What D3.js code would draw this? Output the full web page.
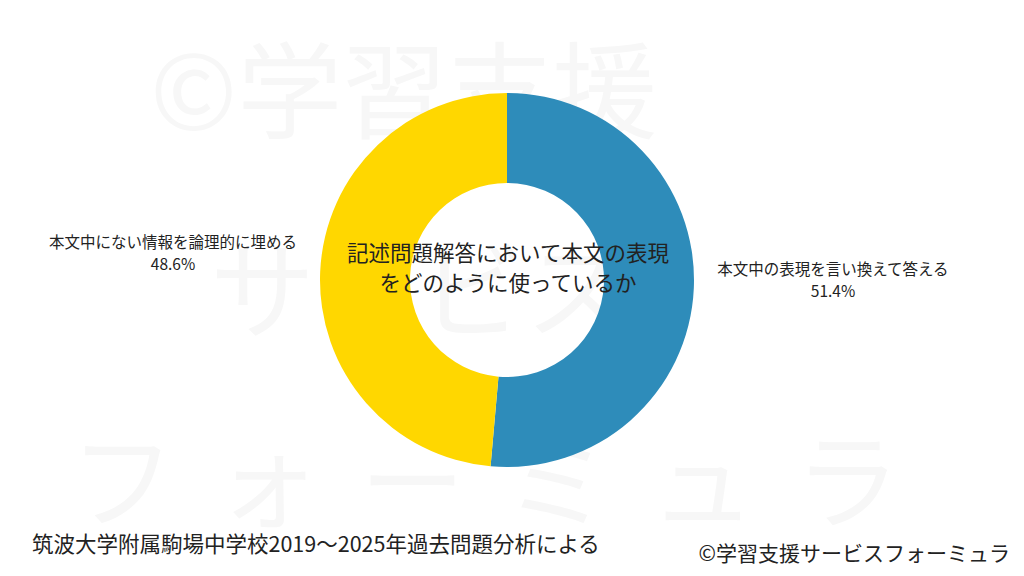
<!doctype html>
<html lang="ja">
<head>
<meta charset="utf-8">
<style>
  body { margin: 0; background: #fff; }
  text { font-family: "Noto Sans CJK JP", "Noto Sans", sans-serif; }
</style>
</head>
<body>
<svg id="chart" width="1024" height="576"></svg>
<script src="https://d3js.org/d3.v7.min.js"></script>
<script>
  const categories = ['本文中の表現を言い換えて答える', '本文中にない情報を論理的に埋める']
  const values = [51.4, 48.6]
  const colors = ['#2E8CBA', '#FFD700']
  const title = ['記述問題解答において本文の表現', 'をどのように使っているか']

  const svg = d3.select('#chart')
  const cx = 507, cy = 280, rOuter = 187, rInner = 97

  // faint watermark
  const wm = svg.append('g').attr('fill', '#f7f7f7').attr('font-size', 105)
  wm.append('text').attr('x', 150).attr('y', 130).text('©学習支援')
  wm.append('text').attr('x', 210).attr('y', 330).text('サービス')
  wm.append('text').attr('x', 70).attr('y', 520).attr('letter-spacing', 40).text('フォーミュラ')

  const pie = d3.pie().sort(null)
  const arc = d3.arc().innerRadius(rInner).outerRadius(rOuter)
  const g = svg.append('g').attr('transform', `translate(${cx},${cy})`)
  g.selectAll('path').data(pie(values)).join('path')
    .attr('d', arc).attr('fill', (d, i) => colors[i])

  const labelPos = [[833, 275], [173, 248]]
  categories.forEach((c, i) => {
    const [x, y] = labelPos[i]
    svg.append('text').attr('x', x).attr('y', y).attr('text-anchor', 'middle')
      .attr('font-size', 15.5).attr('fill', '#222').text(c)
    svg.append('text').attr('x', x).attr('y', y + 22).attr('text-anchor', 'middle')
      .attr('font-size', 15.5).attr('fill', '#222').text(values[i].toFixed(1) + '%')
  })

  title.forEach((t, i) => {
    svg.append('text').attr('x', cx + 1).attr('y', 261 + i * 30).attr('text-anchor', 'middle')
      .attr('font-size', 21.5).attr('fill', '#222').text(t)
  })

  svg.append('text').attr('x', 32).attr('y', 552).attr('font-size', 21.5).attr('fill', '#222')
    .text('筑波大学附属駒場中学校2019〜2025年過去問題分析による')
  svg.append('text').attr('x', 1010).attr('y', 561).attr('text-anchor', 'end')
    .attr('font-size', 21).attr('fill', '#222').text('©学習支援サービスフォーミュラ')
</script>
</body>
</html>
